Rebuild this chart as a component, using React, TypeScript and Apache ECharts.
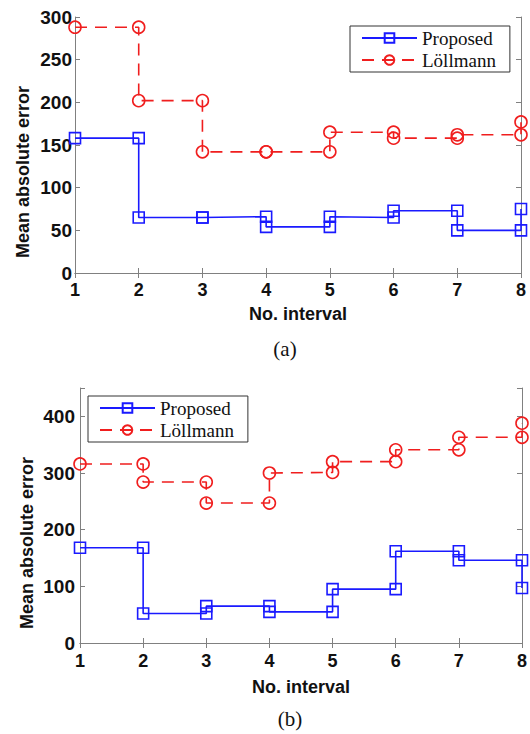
import React, { useEffect, useRef } from "react";
import * as echarts from "echarts";

// x positions of the step points (each interval start / end)
const stepX = [1, 2, 2, 3, 3, 4, 4, 5, 5, 6, 6, 7, 7, 8, 8];

// (a) values
const proposedA = [158, 158, 65, 65, 65, 66, 54, 54, 66, 65, 73, 73, 50, 50, 75];
const lollmannA = [288, 288, 202, 202, 142, 142, 142, 142, 165, 165, 158, 158, 162, 162, 177];

// (b) values
const proposedB = [168, 168, 52, 52, 65, 65, 55, 55, 95, 95, 162, 162, 146, 146, 97];
const lollmannB = [316, 316, 284, 284, 247, 247, 300, 301, 320, 320, 341, 341, 363, 363, 388];

const seriesNames = ["Proposed", "Löllmann"];
const xTicksMin = 1;
const xTicksMax = 8;
const yMaxA = 300;
const yIntervalA = 50;
const yMaxB = 450;
const yIntervalB = 100;

const BLUE = "#1a1aff";
const RED = "#f01e1e";
const AXIS = "#808080";
const TXT = "#111111";
const SANS = "Liberation Sans, Arial, sans-serif";
const SERIF = "Liberation Serif, Times New Roman, serif";

function pairs(xs: number[], ys: number[]) {
  return xs.map((x, i) => [x, ys[i]]);
}

export default function App() {
  const ref = useRef<HTMLDivElement>(null);

  useEffect(() => {
    document.body.style.margin = "0";
    if (!ref.current) return;
    const chart = echarts.init(ref.current, null, { renderer: "svg" });

    const xBottom = (gi: number, gap: number, margin: number) => ({
      type: "value",
      gridIndex: gi,
      min: xTicksMin,
      max: xTicksMax,
      interval: 1,
      position: "bottom",
      axisLine: { show: true, lineStyle: { color: AXIS, width: 1 } },
      axisTick: { show: true, inside: true, length: 5, lineStyle: { color: AXIS } },
      splitLine: { show: false },
      axisLabel: {
        show: true,
        margin,
        color: TXT,
        fontSize: 18,
        fontWeight: "bold",
        fontFamily: SANS,
      },
      name: "No. interval",
      nameLocation: "middle",
      nameGap: gap,
      nameTextStyle: { color: TXT, fontSize: 18, fontWeight: "bold", fontFamily: SANS },
    });
    const xTop = (gi: number) => ({
      type: "value",
      gridIndex: gi,
      min: xTicksMin,
      max: xTicksMax,
      interval: 1,
      position: "top",
      axisLine: { show: true, lineStyle: { color: AXIS, width: 1 } },
      axisTick: { show: true, inside: true, length: 5, lineStyle: { color: AXIS } },
      splitLine: { show: false },
      axisLabel: { show: false },
    });
    const yLeft = (gi: number, max: number, interval: number, margin: number) => ({
      type: "value",
      gridIndex: gi,
      min: 0,
      max,
      interval,
      position: "left",
      axisLine: { show: true, lineStyle: { color: AXIS, width: 1 } },
      axisTick: { show: true, inside: true, length: 5, lineStyle: { color: AXIS } },
      splitLine: { show: false },
      axisLabel: {
        show: true,
        margin,
        color: TXT,
        fontSize: 19,
        fontWeight: "bold",
        fontFamily: SANS,
        formatter: (v: number) => (v % interval === 0 ? String(v) : ""),
      },
    });
    const yRight = (gi: number, max: number, interval: number) => ({
      type: "value",
      gridIndex: gi,
      min: 0,
      max,
      interval,
      position: "right",
      axisLine: { show: true, lineStyle: { color: AXIS, width: 1 } },
      axisTick: { show: true, inside: true, length: 5, lineStyle: { color: AXIS } },
      splitLine: { show: false },
      axisLabel: { show: false },
    });

    const mkSeries = (name: string, xi: number, yi: number, data: number[][], blue: boolean) => ({
      name,
      type: "line",
      xAxisIndex: xi,
      yAxisIndex: yi,
      data,
      clip: false,
      symbol: blue ? "rect" : "circle",
      symbolSize: blue ? 11 : 12,
      lineStyle: {
        color: blue ? BLUE : RED,
        width: 1.6,
        type: blue ? "solid" : [12, 8],
      },
      itemStyle: {
        color: "rgba(0,0,0,0)",
        borderColor: blue ? BLUE : RED,
        borderWidth: 1.6,
      },
      emphasis: { disabled: true },
    });

    const legendBase = {
      orient: "vertical",
      data: seriesNames,
      itemWidth: 55,
      itemHeight: 12,
      itemGap: 2,
      padding: [2, 14, 2, 11],
      borderColor: "#333",
      borderWidth: 1,
      backgroundColor: "#ffffff",
      selectedMode: false,
      textStyle: { fontFamily: SERIF, fontSize: 19, color: TXT, lineHeight: 20 },
    };

    chart.setOption({
      animation: false,
      backgroundColor: "#ffffff",
      grid: [
        { left: 75, right: 9, top: 17, height: 256, containLabel: false },
        { left: 80, right: 5, top: 388, height: 255, containLabel: false },
      ],
      xAxis: [xBottom(0, 32, 8), xTop(0), xBottom(1, 35, 9), xTop(1)],
      yAxis: [
        yLeft(0, yMaxA, yIntervalA, 3),
        yRight(0, yMaxA, yIntervalA),
        yLeft(1, yMaxB, yIntervalB, 5),
        yRight(1, yMaxB, yIntervalB),
      ],
      legend: [
        { ...legendBase, left: 350, top: 26 },
        { ...legendBase, left: 88, top: 396 },
      ],
      graphic: [
        {
          type: "text",
          x: 23,
          y: 172,
          rotation: Math.PI / 2,
          style: {
            text: "Mean absolute error",
            fontSize: 18,
            fontWeight: "bold",
            fontFamily: SANS,
            fill: TXT,
            align: "center",
            verticalAlign: "middle",
          },
        },
        {
          type: "text",
          x: 27,
          y: 543,
          rotation: Math.PI / 2,
          style: {
            text: "Mean absolute error",
            fontSize: 18,
            fontWeight: "bold",
            fontFamily: SANS,
            fill: TXT,
            align: "center",
            verticalAlign: "middle",
          },
        },
        {
          type: "text",
          x: 285,
          y: 349,
          style: {
            text: "(a)",
            fontSize: 21,
            fontFamily: SERIF,
            fill: TXT,
            align: "center",
            verticalAlign: "middle",
          },
        },
        {
          type: "text",
          x: 290,
          y: 719,
          style: {
            text: "(b)",
            fontSize: 21,
            fontFamily: SERIF,
            fill: TXT,
            align: "center",
            verticalAlign: "middle",
          },
        },
      ],
      series: [
        mkSeries("Proposed", 0, 0, pairs(stepX, proposedA), true),
        mkSeries("Löllmann", 0, 0, pairs(stepX, lollmannA), false),
        mkSeries("Proposed", 2, 2, pairs(stepX, proposedB), true),
        mkSeries("Löllmann", 2, 2, pairs(stepX, lollmannB), false),
      ],
    });

    return () => chart.dispose();
  }, []);

  return <div ref={ref} style={{ width: 530, height: 734 }} />;
}
